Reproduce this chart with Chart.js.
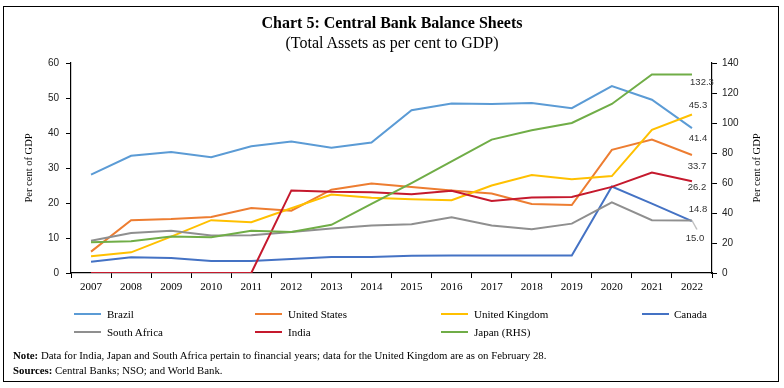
<!DOCTYPE html>
<html>
<head>
<meta charset="utf-8">
<script src="https://cdn.jsdelivr.net/npm/chart.js@4/dist/chart.umd.min.js"></script>
<style>
html,body{margin:0;padding:0;background:#fff;}
#wrap{position:relative;width:784px;height:388px;overflow:hidden;background:#fff;font-family:"Liberation Serif",serif;color:#000;}
#frame{position:absolute;left:3px;top:6px;width:776px;height:376px;border:1.3px solid #000;box-sizing:border-box;}
#c{position:absolute;left:0;top:0;}
.t{position:absolute;white-space:nowrap;}
#title{left:0;width:784px;text-align:center;top:14px;font-size:16px;line-height:18px;font-weight:bold;}
#subtitle{left:0;width:784px;text-align:center;top:34px;font-size:16px;line-height:18px;}
.note{left:13px;font-size:10.8px;line-height:12px;}
.lg{position:absolute;height:14px;}
.lg .ln{position:absolute;left:0;top:6px;width:27px;height:2.2px;}
.lg .tx{position:absolute;top:0;font-size:11px;line-height:14px;white-space:nowrap;}
</style>
</head>
<body>
<div id="wrap">
  <canvas id="c" width="784" height="388"></canvas>
  <div id="frame"></div>
  <div class="t" id="title">Chart 5: Central Bank Balance Sheets</div>
  <div class="t" id="subtitle">(Total Assets as per cent to GDP)</div>
  <div id="legend"></div>
  <div class="t note" style="top:349px;"><b>Note:</b> Data for India, Japan and South Africa pertain to financial years; data for the United Kingdom are as on February 28.</div>
  <div class="t note" style="top:364px;"><b>Sources:</b> Central Banks; NSO; and World Bank.</div>
</div>
<script>
// ---- Data ----
const years = ['2007','2008','2009','2010','2011','2012','2013','2014','2015','2016','2017','2018','2019','2020','2021','2022'];
const brazil        = [28.1, 33.5, 34.6, 33.1, 36.2, 37.6, 35.8, 37.3, 46.5, 48.4, 48.3, 48.6, 47.1, 53.4, 49.5, 41.4];
const unitedStates  = [6.1, 15.1, 15.4, 16.0, 18.6, 17.8, 23.8, 25.6, 24.6, 23.6, 22.7, 19.7, 19.4, 35.2, 38.1, 33.7];
const unitedKingdom = [4.8, 5.9, 10.4, 15.1, 14.5, 18.5, 22.4, 21.5, 21.1, 20.8, 25.0, 28.0, 26.8, 27.7, 40.9, 45.3];
const canada        = [3.2, 4.5, 4.3, 3.4, 3.4, 4.0, 4.6, 4.6, 4.9, 5.0, 5.0, 5.0, 5.0, 24.7, 19.8, 14.8];
const southAfrica   = [9.2, 11.4, 12.1, 10.7, 10.8, 11.7, 12.7, 13.6, 13.9, 15.9, 13.6, 12.5, 14.1, 20.2, 15.1, 15.0];
const india         = [0, 0, 0, 0, 0, 23.6, 23.2, 23.1, 22.5, 23.5, 20.6, 21.6, 21.7, 24.6, 28.7, 26.2];
const japanRHS      = [20.5, 21.2, 24.3, 23.8, 28.1, 27.4, 32.1, 46.1, 59.9, 74.4, 88.9, 95.1, 100.0, 112.7, 132.3, 132.3];
const leftTicks  = [0, 10, 20, 30, 40, 50, 60];
const rightTicks = [0, 20, 40, 60, 80, 100, 120, 140];

// ---- Styling ----
const series = [
  {label:'Brazil',         data:brazil,        color:'#5B9BD5', axis:'y',  lab:{dx:6, dy:10.5}},
  {label:'United States',  data:unitedStates,  color:'#ED7D31', axis:'y',  lab:{dx:5, dy:11}},
  {label:'United Kingdom', data:unitedKingdom, color:'#FFC000', axis:'y',  lab:{dx:6, dy:-9}},
  {label:'Canada',         data:canada,        color:'#4472C4', axis:'y',  lab:{dx:6, dy:-12}},
  {label:'South Africa',   data:southAfrica,   color:'#8F8F8F', axis:'y',  lab:{dx:3, dy:18, leader:true}},
  {label:'India',          data:india,         color:'#C5192D', axis:'y',  lab:{dx:5, dy:6.5}},
  {label:'Japan (RHS)',    data:japanRHS,      color:'#70AD47', axis:'y2', lab:{dx:10, dy:8}}
];
const legendPos = [[74,307],[255,307],[441,307],[642,307],[74,325],[255,325],[441,325]];

// legend (HTML)
const lgEl = document.getElementById('legend');
series.forEach((s,i)=>{
  const d = document.createElement('div');
  d.className='lg';
  d.style.left = legendPos[i][0]+'px';
  d.style.top = legendPos[i][1]+'px';
  d.innerHTML = '<div class="ln" style="background:'+s.color+'"></div><div class="tx" style="left:'+(i%4===3?32:33)+'px">'+s.label+'</div>';
  lgEl.appendChild(d);
});

const endLabels = {
  id:'endLabels',
  afterDatasetsDraw(chart){
    const ctx = chart.ctx;
    ctx.save();
    ctx.font = '9.5px "Liberation Sans", sans-serif';
    ctx.fillStyle = '#333';
    ctx.textAlign = 'center';
    ctx.textBaseline = 'middle';
    chart.data.datasets.forEach((ds,i)=>{
      const meta = chart.getDatasetMeta(i);
      const pt = meta.data[meta.data.length-1];
      const lab = series[i].lab;
      const v = ds.data[ds.data.length-1];
      if (lab.leader){
        ctx.strokeStyle = '#C0C0C0';
        ctx.lineWidth = 1.5;
        ctx.beginPath();
        ctx.moveTo(pt.x, pt.y);
        ctx.lineTo(pt.x+5, pt.y+9);
        ctx.stroke();
      }
      ctx.fillText(v.toFixed(1), pt.x+lab.dx, pt.y+lab.dy);
    });
    ctx.restore();
  }
};
const rightTitle = {
  id:'rightTitle',
  afterDraw(chart){
    const ctx = chart.ctx, sc = chart.scales.y2;
    ctx.save();
    ctx.translate(757, (sc.top+sc.bottom)/2);
    ctx.rotate(-Math.PI/2);
    ctx.font = '10.5px "Liberation Serif", serif';
    ctx.fillStyle = '#000';
    ctx.textAlign='center'; ctx.textBaseline='middle';
    ctx.fillText('Per cent of GDP', 0, 0);
    ctx.restore();
  }
};

const tickFont = {family:'"Liberation Sans", sans-serif', size:10};
new Chart(document.getElementById('c'), {
  type:'line',
  data:{
    labels: years,
    datasets: series.map((s,i)=>({
      label:s.label, data:s.data, yAxisID:s.axis,
      borderColor:s.color, backgroundColor:s.color,
      borderWidth:2, pointRadius:0, tension:0, fill:false,
      order: series.length-1-i
    }))
  },
  options:{
    responsive:false, animation:false, devicePixelRatio:1,
    layout:{padding:{left:4, right:5, top:63, bottom:93}},
    plugins:{legend:{display:false}, tooltip:{enabled:false}, title:{display:false}},
    scales:{
      x:{
        type:'category', offset:true,
        grid:{display:true, drawOnChartArea:false, drawTicks:true, tickLength:5, offset:true, color:'#000', lineWidth:1},
        border:{display:true, color:'#000', width:1.2},
        ticks:{color:'#000', font:{family:'"Liberation Serif", serif', size:11}, padding:3, maxRotation:0, autoSkip:false},
        afterFit(s){ s.height = 22; }
      },
      y:{
        position:'left', min:0, max:60,
        afterBuildTicks(s){ s.ticks = leftTicks.map(v=>({value:v})); },
        grid:{display:true, drawOnChartArea:false, drawTicks:true, tickLength:5, color:'#000'},
        border:{display:true, color:'#000', width:1.2},
        ticks:{color:'#222', font:tickFont, padding:7},
        title:{display:true, text:'Per cent of GDP', color:'#000', font:{family:'"Liberation Serif", serif', size:10.5}, padding:{top:19, bottom:0}},
        afterFit(s){ s.width = 67; }
      },
      y2:{
        position:'right', min:0, max:140,
        afterBuildTicks(s){ s.ticks = rightTicks.map(v=>({value:v})); },
        grid:{display:true, drawOnChartArea:false, drawTicks:true, tickLength:5, color:'#000'},
        border:{display:true, color:'#000', width:1.2},
        ticks:{color:'#222', font:tickFont, padding:5},
        afterFit(s){ s.width = 67; }
      }
    }
  },
  plugins:[endLabels, rightTitle]
});
</script>
</body>
</html>
